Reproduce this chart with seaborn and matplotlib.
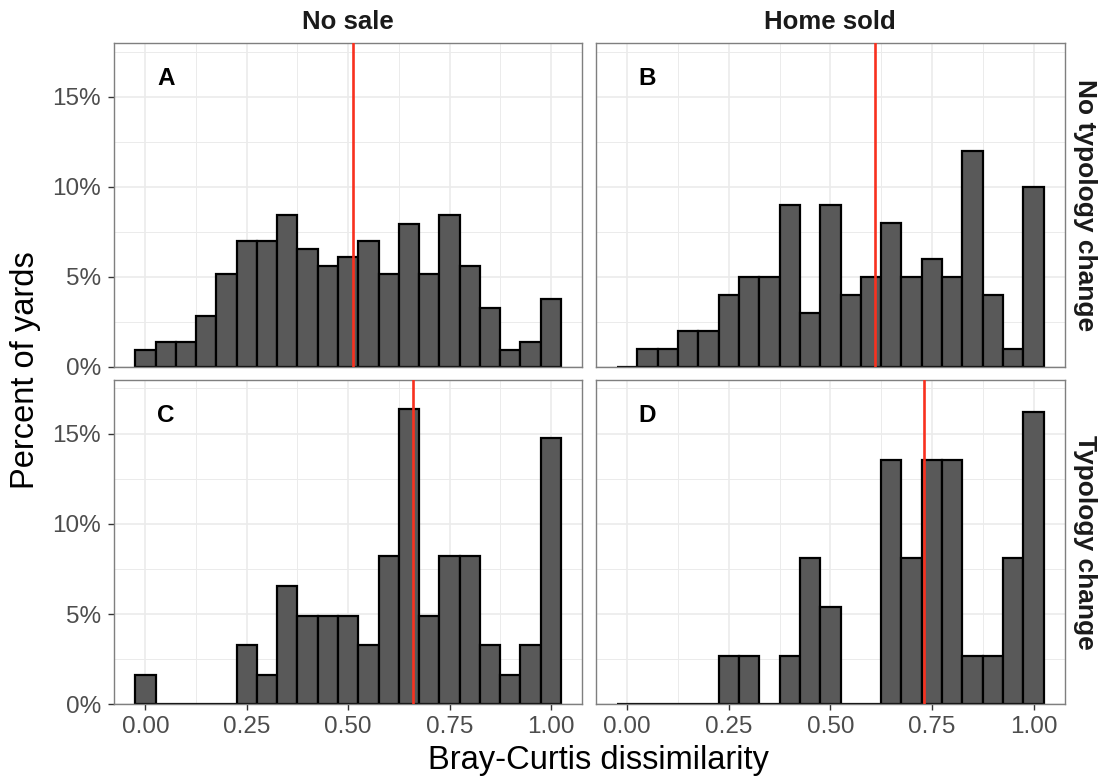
import numpy as np
import pandas as pd
import matplotlib
matplotlib.use("Agg")
import matplotlib.pyplot as plt
import seaborn as sns
from matplotlib.ticker import MultipleLocator, FuncFormatter

# ---------------- data ----------------
bin_centers = [0.00, 0.05, 0.10, 0.15, 0.20, 0.25, 0.30, 0.35, 0.40, 0.45, 0.50,
               0.55, 0.60, 0.65, 0.70, 0.75, 0.80, 0.85, 0.90, 0.95, 1.00]
bin_edges = [-0.025, 0.025, 0.075, 0.125, 0.175, 0.225, 0.275, 0.325, 0.375, 0.425,
             0.475, 0.525, 0.575, 0.625, 0.675, 0.725, 0.775, 0.825, 0.875, 0.925,
             0.975, 1.025]

pct_A = [0.93, 1.40, 1.40, 2.80, 5.14, 7.01, 7.01, 8.41, 6.54, 5.61, 6.07,
         7.01, 5.14, 7.94, 5.14, 8.41, 5.61, 3.27, 0.93, 1.40, 3.74]
pct_B = [0, 1, 1, 2, 2, 4, 5, 5, 9, 3, 9,
         4, 5, 8, 5, 6, 5, 12, 4, 1, 10]
pct_C = [1.64, 0, 0, 0, 0, 3.28, 1.64, 6.56, 4.92, 4.92, 4.92,
         3.28, 8.20, 16.39, 4.92, 8.20, 8.20, 3.28, 1.64, 3.28, 14.75]
pct_D = [0, 0, 0, 0, 0, 2.70, 2.70, 0, 2.70, 8.11, 5.41,
         0, 0, 13.51, 8.11, 13.51, 13.51, 2.70, 2.70, 8.11, 16.22]

medians = {"A": 0.513, "B": 0.611, "C": 0.660, "D": 0.730}
col_labels = ["No sale", "Home sold"]
row_labels = ["No typology change", "Typology change"]
panel_tags = ["A", "B", "C", "D"]
x_ticks = [0.00, 0.25, 0.50, 0.75, 1.00]
x_tick_labels = ["0.00", "0.25", "0.50", "0.75", "1.00"]
y_ticks = [0, 5, 10, 15]

series = {"A": pct_A, "B": pct_B, "C": pct_C, "D": pct_D}

# ---------------- style ----------------
sns.set_style("white")
plt.rcParams["font.family"] = ["Liberation Sans", "DejaVu Sans"]

W, H = 1103, 778
fig = plt.figure(figsize=(W / 100, H / 100), dpi=100)


def rect(l, t, r, b):
    return [l / W, 1 - b / H, (r - l) / W, (b - t) / H]


boxes = {
    "A": rect(114, 43.3, 582.3, 366.7),
    "B": rect(595.7, 43.3, 1065, 366.7),
    "C": rect(114, 380, 582.3, 704.3),
    "D": rect(595.7, 380, 1065, 704.3),
}

for i, tag in enumerate(panel_tags):
    r, c = divmod(i, 2)
    ax = fig.add_axes(boxes[tag])
    df = pd.DataFrame({"x": bin_centers, "pct": series[tag]})
    sns.histplot(data=df, x="x", weights="pct", bins=bin_edges, ax=ax,
                 color="#595959", edgecolor="black", linewidth=1.6, alpha=1)
    ax.axvline(medians[tag], color="#f8311f", lw=1.9, zorder=3)
    ax.set_xlim(-0.0775, 1.0775)
    ax.set_ylim(0, 17.97)
    ax.set_xlabel("")
    ax.set_ylabel("")
    ax.set_axisbelow(True)
    ax.xaxis.set_major_locator(MultipleLocator(0.25))
    ax.xaxis.set_minor_locator(MultipleLocator(0.125))
    ax.yaxis.set_major_locator(MultipleLocator(5))
    ax.yaxis.set_minor_locator(MultipleLocator(2.5))
    ax.grid(which="major", color="#ebebeb", lw=1.2)
    ax.grid(which="minor", color="#ebebeb", lw=0.7)
    for s in ax.spines.values():
        s.set_color("#7f7f7f")
        s.set_linewidth(1.0)
    ax.text(0.05, 16, tag, fontweight="bold", ha="center", va="center",
            fontsize=17.5, color="black")
    ax.tick_params(which="minor", length=0)
    ax.tick_params(which="major", length=4.5, width=1.0, color="#333333",
                   labelcolor="#4d4d4d", labelsize=17.5)
    if r == 1:
        ax.set_xticks(x_ticks)
        ax.set_xticklabels(x_tick_labels)
        ax.tick_params(axis="x", bottom=True, pad=4)
    else:
        ax.tick_params(axis="x", bottom=False, labelbottom=False)
    if c == 0:
        ax.set_yticks(y_ticks)
        ax.yaxis.set_major_formatter(FuncFormatter(lambda v, p: f"{v:.0f}%"))
        ax.tick_params(axis="y", left=True, pad=5)
    else:
        ax.tick_params(axis="y", left=False, labelleft=False)

# strip labels
fig.text((114 + 582.3) / 2 / W, 1 - 22 / H, col_labels[0], ha="center", va="center",
         fontsize=18.5, fontweight="bold", color="#1a1a1a")
fig.text((595.7 + 1065) / 2 / W, 1 - 22 / H, col_labels[1], ha="center", va="center",
         fontsize=18.5, fontweight="bold", color="#1a1a1a")
fig.text(1085 / W, 1 - (43.3 + 366.7) / 2 / H, row_labels[0], ha="center", va="center",
         rotation=-90, fontsize=19, fontweight="bold", color="#1a1a1a")
fig.text(1085 / W, 1 - (380 + 704.3) / 2 / H, row_labels[1], ha="center", va="center",
         rotation=-90, fontsize=19, fontweight="bold", color="#1a1a1a")

# axis titles
fig.text(598 / W, 1 - 760 / H, "Bray-Curtis dissimilarity", ha="center", va="center",
         fontsize=23.5, color="black")
fig.text(26 / W, 1 - 370 / H, "Percent of yards", ha="center", va="center",
         rotation=90, fontsize=23.5, color="black")

fig.savefig("out.png", dpi=100, facecolor="white")
